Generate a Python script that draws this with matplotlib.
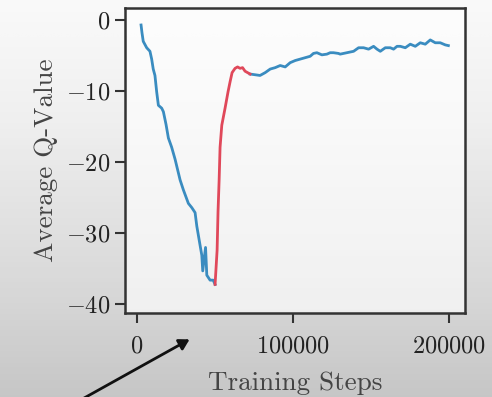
import numpy as np
import matplotlib
matplotlib.use("Agg")
import matplotlib.pyplot as plt

# computer modern look
plt.rcParams['font.family'] = 'serif'
plt.rcParams['font.serif'] = ['cmr10']
plt.rcParams['mathtext.fontset'] = 'cm'
plt.rcParams['axes.formatter.use_mathtext'] = True

# blue segment before the drop (steps, q-value)
steps_down = [2600, 3200, 4000, 6200, 8300, 9400, 10400, 11500, 12600, 13700,
              15800, 16900, 18600, 20100, 22200, 24400, 27600, 29700, 32900, 35100,
              37200, 38300, 40400, 41500, 42100, 43900, 44700, 46800, 48800, 50000]
q_down = [-0.7, -1.8, -3.0, -3.9, -4.4, -5.5, -6.9, -7.8, -10.1, -12.0,
          -12.4, -12.9, -14.7, -16.6, -17.9, -19.6, -22.5, -23.9, -25.8, -26.4,
          -27.1, -29.0, -31.7, -33.1, -35.3, -32.0, -35.9, -36.6, -36.6, -37.2]

# red recovery segment
steps_red = [50000, 51300, 51900, 52600, 53200, 54300, 56400, 58300, 59600, 60900,
             62800, 64400, 66000, 67600, 69200, 72400]
q_red = [-37.2, -32.4, -26.9, -22.5, -17.9, -14.8, -12.4, -10.1, -8.7, -7.4,
         -6.8, -6.6, -6.8, -6.7, -7.2, -7.6]

# blue segment after recovery
steps_up = [72400, 75600, 78800, 82100, 85300, 88500, 91700, 94900, 98100, 101300,
            104500, 107700, 110900, 113000, 115200, 118400, 121600, 123700, 125800, 129000,
            130100, 134400, 138700, 141900, 145100, 148300, 151500, 153700, 155800, 159000,
            162200, 164300, 166500, 168600, 171800, 175000, 178200, 181400, 184600, 187800,
            191000, 194200, 197400, 199400]
q_up = [-7.6, -7.7, -7.8, -7.4, -6.9, -6.7, -6.4, -6.6, -6.0, -5.7,
        -5.5, -5.3, -5.1, -4.7, -4.6, -4.9, -4.8, -4.6, -4.6, -4.7,
        -4.8, -4.6, -4.4, -3.9, -3.9, -4.1, -3.7, -4.1, -4.4, -3.9,
        -3.9, -4.1, -3.7, -3.7, -3.9, -3.4, -3.7, -3.2, -3.4, -2.8,
        -3.2, -3.2, -3.5, -3.6]

blue = '#3a8cc0'
red = '#e0485a'

fig = plt.figure(figsize=(4.92, 3.97), dpi=100)

# grey photo-like background
bg = fig.add_axes([0, 0, 1, 1], zorder=-10)
grad = np.linspace(0, 1, 200)[:, None] * np.ones((1, 50))
bg.imshow(grad, cmap='Greys', vmin=-0.15, vmax=3.3, aspect='auto', extent=[0, 1, 0, 1])
bg.axis('off')

ax = fig.add_axes([0.254, 0.212, 0.691, 0.768])
ax.set_facecolor((1, 1, 1, 0.65))
ax.plot(steps_down, q_down, color=blue, lw=2)
ax.plot(steps_up, q_up, color=blue, lw=2)
ax.plot(steps_red, q_red, color=red, lw=2)

ax.set_xlim(-7700, 210000)
ax.set_ylim(-41.2, 1.7)
ax.set_xticks([0, 100000, 200000])
ax.set_yticks([0, -10, -20, -30, -40])
ax.ticklabel_format(axis='x', style='plain')
ax.tick_params(labelsize=17.5, length=7, width=1.5, color='#333333', labelcolor='#222222')
ax.tick_params(axis='x', pad=9)
for s in ax.spines.values():
    s.set_linewidth(1.8)
    s.set_color('#333333')

ax.set_xlabel('Training Steps', fontsize=19.5, color='#444444', labelpad=10)
ax.set_ylabel('Average Q-Value', fontsize=19.5, color='#444444', labelpad=6)

# pointer arrow from the slide
fig.patches.append(matplotlib.patches.FancyArrowPatch(
    (77 / 492, 1 - 402 / 397), (192 / 492, 1 - 338 / 397), transform=fig.transFigure,
    arrowstyle='-|>,head_length=6,head_width=3.5', lw=2, color='#111111', clip_on=False))

fig.savefig('out.png', dpi=100)
